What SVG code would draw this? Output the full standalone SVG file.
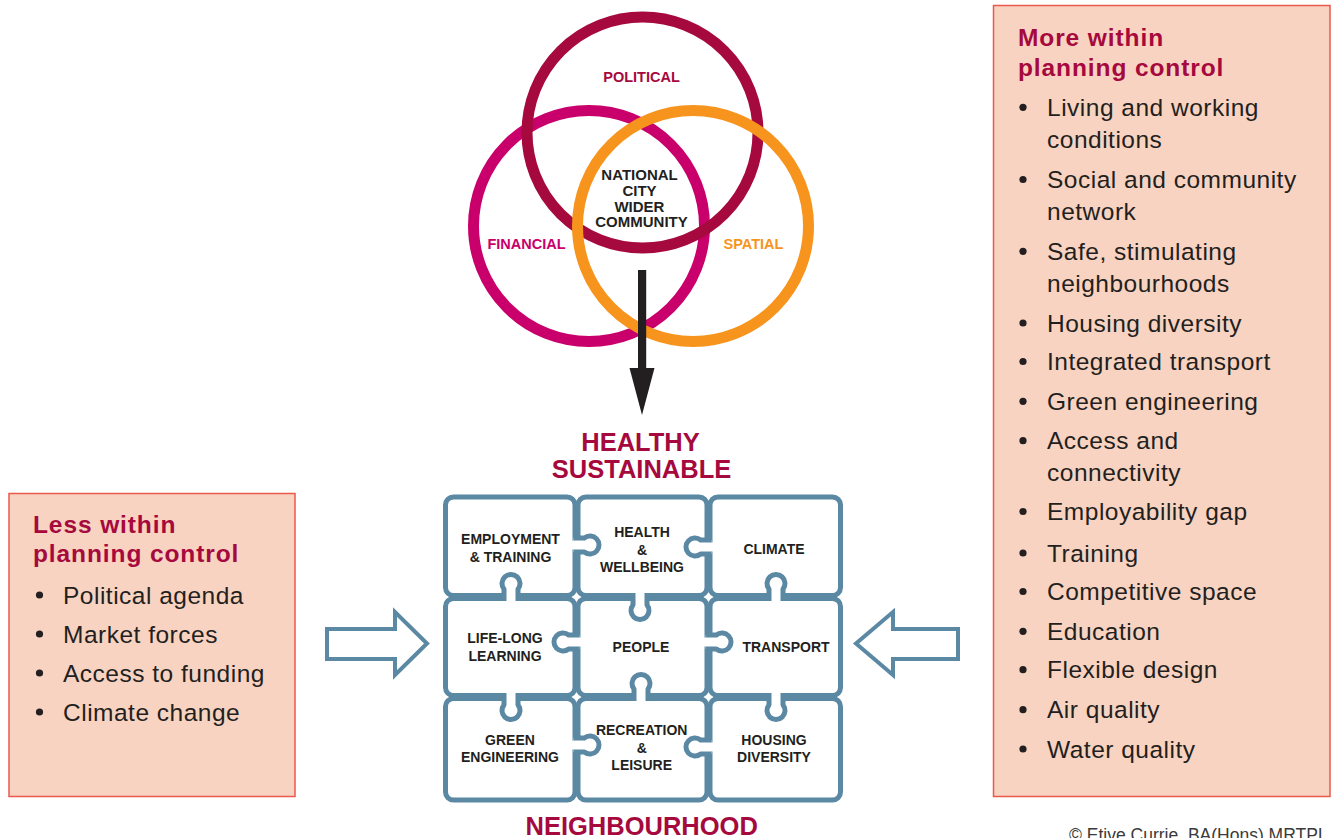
<svg xmlns="http://www.w3.org/2000/svg" xmlns:xlink="http://www.w3.org/1999/xlink" width="1332" height="838" viewBox="0 0 1332 838">
  <style>
    .ring { fill: none; stroke-width: 11; }
    .vlabel { font-family: "Liberation Sans", Arial, sans-serif; font-weight: bold; font-size: 14.5px; text-anchor: middle; }
    .core { font-size: 15px; }
    .cell { fill: #ffffff; stroke: #5b88a3; stroke-width: 5; }
    .clabel { font-family: "Liberation Sans", Arial, sans-serif; font-weight: bold; font-size: 14px; fill: #231f20; text-anchor: middle; }
    .title { font-family: "Liberation Sans", Arial, sans-serif; font-weight: bold; font-size: 25.5px; fill: #a6093d; text-anchor: middle; }
    .panel { fill: #f8d3c1; stroke: #e9594c; stroke-width: 1.5; }
    .phead { font-family: "Liberation Sans", Arial, sans-serif; font-weight: bold; font-size: 24.5px; letter-spacing: 0.9px; fill: #a6093d; }
    .item { font-family: "Liberation Sans", Arial, sans-serif; font-size: 24.5px; letter-spacing: 0.5px; fill: #231f20; }
    .dot { fill: #231f20; }
    .hollow { fill: #ffffff; stroke: #5b88a3; stroke-width: 4; stroke-linejoin: miter; }
    .credit { font-family: "Liberation Sans", Arial, sans-serif; font-size: 17.5px; fill: #3a3a3a; }
  </style>
  <defs>
    <!-- puzzle tab: separator at origin, pointing along +x -->
    <g id="knob">
      <rect x="-4.5" y="-4.5" width="9" height="9" fill="#ffffff"/>
      <path d="M-3,-7 L7.85,-7 A9 9 0 1 1 7.85,7 L-3,7" fill="#ffffff" stroke="#5b88a3" stroke-width="5" stroke-linejoin="round"/>
    </g>
  </defs>

  <rect width="1332" height="838" fill="#ffffff"/>

  <!-- Venn of influences -->
  <g id="venn">
    <g id="financial">
      <circle class="ring" cx="589" cy="226" r="115.5" stroke="#c9006b"/>
      <text class="vlabel" x="526.5" y="248.5" fill="#c9006b">FINANCIAL</text>
    </g>
    <g id="political">
      <circle class="ring" cx="642.5" cy="132.5" r="115.5" stroke="#a6093d"/>
      <text class="vlabel" x="641.5" y="82" fill="#a6093d">POLITICAL</text>
    </g>
    <g id="spatial">
      <circle class="ring" cx="693" cy="226" r="115.5" stroke="#f7941d"/>
      <text class="vlabel" x="753.5" y="248.5" fill="#f7941d">SPATIAL</text>
    </g>
    <g id="core">
      <text class="vlabel core" fill="#231f20">
        <tspan x="641.5" y="180.3">NATIONAL</tspan>
        <tspan x="641.5" y="196">CITY</tspan>
        <tspan x="641.5" y="212">WIDER</tspan>
        <tspan x="641.5" y="227.2">COMMUNITY</tspan>
      </text>
    </g>
  </g>

  <g id="connectors">
    <!-- downward influence arrow -->
    <g id="down-arrow" fill="#231f20">
      <rect x="638" y="270" width="8.2" height="100"/>
      <polygon points="629.5,368 654.5,368 642,415"/>
    </g>
    <!-- hollow side arrows -->
    <polygon class="hollow" points="327,629 395,629 395,612 427,643.5 395,675 395,659 327,659"/>
    <polygon class="hollow" points="958,629 893,629 893,612 856,643.5 893,675 893,659 958,659"/>
  </g>

  <!-- heading above and below the puzzle -->
  <g id="heading">
    <text class="title" x="640.5" y="450.7">HEALTHY</text>
    <text class="title" x="641.5" y="477.5">SUSTAINABLE</text>
    <text class="title" x="641.7" y="835">NEIGHBOURHOOD</text>
  </g>

  <!-- puzzle pieces -->
  <g id="puzzle">
    <g id="employment">
      <rect class="cell" x="445.5" y="497" width="129.5" height="98.5" rx="8"/>
      <text class="clabel"><tspan x="510.5" y="544">EMPLOYMENT</tspan><tspan x="510.5" y="562">&amp; TRAINING</tspan></text>
    </g>
    <g id="health">
      <rect class="cell" x="578" y="497" width="129" height="98.5" rx="8"/>
      <text class="clabel"><tspan x="642" y="537">HEALTH</tspan><tspan x="642" y="554.5">&amp;</tspan><tspan x="642" y="572">WELLBEING</tspan></text>
    </g>
    <g id="climate">
      <rect class="cell" x="710" y="497" width="130.5" height="98.5" rx="8"/>
      <text class="clabel" x="774" y="554.3">CLIMATE</text>
    </g>
    <g id="lifelong">
      <rect class="cell" x="445.5" y="598.5" width="129.5" height="97" rx="8"/>
      <text class="clabel"><tspan x="505" y="643">LIFE-LONG</tspan><tspan x="505" y="661">LEARNING</tspan></text>
    </g>
    <g id="people">
      <rect class="cell" x="578" y="598.5" width="129" height="97" rx="8"/>
      <text class="clabel" x="641" y="652">PEOPLE</text>
    </g>
    <g id="transport">
      <rect class="cell" x="710" y="598.5" width="130.5" height="97" rx="8"/>
      <text class="clabel" x="786" y="652">TRANSPORT</text>
    </g>
    <g id="green">
      <rect class="cell" x="445.5" y="698.5" width="129.5" height="101.5" rx="8"/>
      <text class="clabel"><tspan x="510" y="744.5">GREEN</tspan><tspan x="510" y="762">ENGINEERING</tspan></text>
    </g>
    <g id="recreation">
      <rect class="cell" x="578" y="698.5" width="129" height="101.5" rx="8"/>
      <text class="clabel"><tspan x="641.7" y="734.5">RECREATION</tspan><tspan x="641.7" y="753">&amp;</tspan><tspan x="641.7" y="770">LEISURE</tspan></text>
    </g>
    <g id="housing">
      <rect class="cell" x="710" y="698.5" width="130.5" height="101.5" rx="8"/>
      <text class="clabel"><tspan x="774" y="744.5">HOUSING</tspan><tspan x="774" y="762">DIVERSITY</tspan></text>
    </g>
    <g id="tabs">
      <use xlink:href="#knob" transform="translate(576.5,545)"/>
      <use xlink:href="#knob" transform="translate(708.5,547) rotate(180)"/>
      <use xlink:href="#knob" transform="translate(511,597) rotate(-90)"/>
      <use xlink:href="#knob" transform="translate(640,597) rotate(90)"/>
      <use xlink:href="#knob" transform="translate(776,597) rotate(-90)"/>
      <use xlink:href="#knob" transform="translate(576.5,642) rotate(180)"/>
      <use xlink:href="#knob" transform="translate(708.5,642)"/>
      <use xlink:href="#knob" transform="translate(641,697) rotate(-90)"/>
      <use xlink:href="#knob" transform="translate(511,697) rotate(90)"/>
      <use xlink:href="#knob" transform="translate(776,697) rotate(90)"/>
      <use xlink:href="#knob" transform="translate(576.5,745)"/>
      <use xlink:href="#knob" transform="translate(708.5,747) rotate(180)"/>
    </g>
  </g>

  <!-- left panel -->
  <g id="less-control">
    <rect class="panel" x="9" y="493.5" width="286" height="303"/>
    <text class="phead" x="33" y="533.3">Less within</text>
    <text class="phead" x="33" y="562">planning control</text>
    <circle class="dot" cx="39.5" cy="595" r="3.6"/>
    <text class="item" x="63" y="604">Political agenda</text>
    <circle class="dot" cx="39.5" cy="634" r="3.6"/>
    <text class="item" x="63" y="643">Market forces</text>
    <circle class="dot" cx="39.5" cy="673" r="3.6"/>
    <text class="item" x="63" y="682">Access to funding</text>
    <circle class="dot" cx="39.5" cy="712" r="3.6"/>
    <text class="item" x="63" y="721">Climate change</text>
  </g>

  <!-- right panel -->
  <g id="more-control">
    <rect class="panel" x="993.5" y="5.5" width="336.5" height="791"/>
    <text class="phead" x="1018" y="46">More within</text>
    <text class="phead" x="1018" y="75.5">planning control</text>
    <g class="dot">
      <circle cx="1023" cy="107.3" r="3.6"/>
      <circle cx="1023" cy="179.5" r="3.6"/>
      <circle cx="1023" cy="251.3" r="3.6"/>
      <circle cx="1023" cy="323" r="3.6"/>
      <circle cx="1023" cy="361.5" r="3.6"/>
      <circle cx="1023" cy="401.3" r="3.6"/>
      <circle cx="1023" cy="440.7" r="3.6"/>
      <circle cx="1023" cy="511.5" r="3.6"/>
      <circle cx="1023" cy="553" r="3.6"/>
      <circle cx="1023" cy="591.5" r="3.6"/>
      <circle cx="1023" cy="631.3" r="3.6"/>
      <circle cx="1023" cy="669.7" r="3.6"/>
      <circle cx="1023" cy="709.7" r="3.6"/>
      <circle cx="1023" cy="749" r="3.6"/>
    </g>
    <text class="item" x="1047" y="115.7">Living and working</text>
    <text class="item" x="1047" y="147.7">conditions</text>
    <text class="item" x="1047" y="188.3">Social and community</text>
    <text class="item" x="1047" y="220">network</text>
    <text class="item" x="1047" y="260">Safe, stimulating</text>
    <text class="item" x="1047" y="291.5">neighbourhoods</text>
    <text class="item" x="1047" y="331.7">Housing diversity</text>
    <text class="item" x="1047" y="370.2">Integrated transport</text>
    <text class="item" x="1047" y="410">Green engineering</text>
    <text class="item" x="1047" y="449.3">Access and</text>
    <text class="item" x="1047" y="480.7">connectivity</text>
    <text class="item" x="1047" y="520.2">Employability gap</text>
    <text class="item" x="1047" y="561.7">Training</text>
    <text class="item" x="1047" y="600.2">Competitive space</text>
    <text class="item" x="1047" y="640">Education</text>
    <text class="item" x="1047" y="678.3">Flexible design</text>
    <text class="item" x="1047" y="718.3">Air quality</text>
    <text class="item" x="1047" y="757.7">Water quality</text>
  </g>

  <text class="credit" x="1069" y="841">© Etive Currie, BA(Hons) MRTPI</text>
</svg>
